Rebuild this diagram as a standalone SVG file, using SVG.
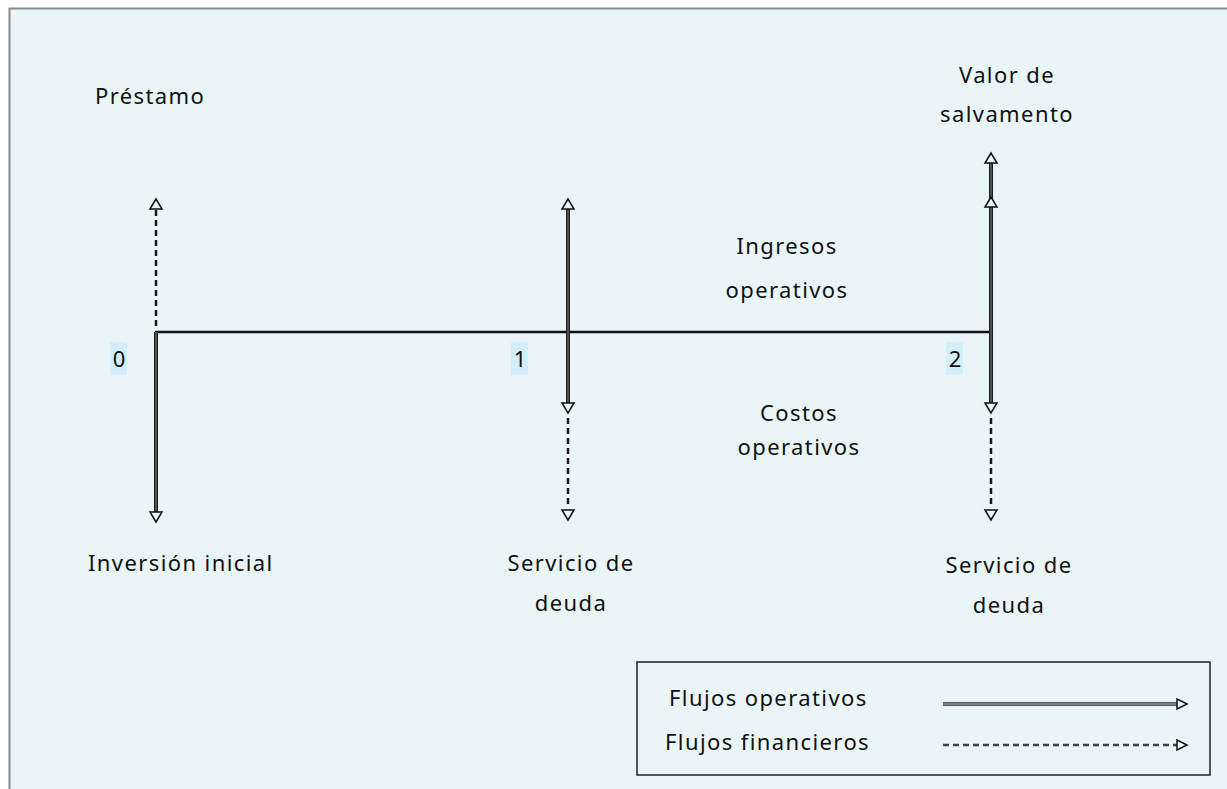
<svg xmlns="http://www.w3.org/2000/svg" width="1227" height="789" viewBox="0 0 1227 789">
<style>
.t{font-family:"Noto Sans","Open Sans","DejaVu Sans",sans-serif;font-size:22px;letter-spacing:1.4px;fill:#111}
.op{stroke:#1a1a1a;stroke-width:4;fill:none}
.opi{stroke:#777;stroke-width:1.2;fill:none}
.fin{stroke:#1a1a1a;stroke-width:2.5;stroke-dasharray:6,4;fill:none}
.ah{fill:#eaf6f8;stroke:#111;stroke-width:1.5}
.num{fill:#d3effb}
</style>
<defs>
<path id="up" d="M0,0 L-6,10 L6,10 Z" class="ah"/>
<path id="dn" d="M0,0 L-6,-10 L6,-10 Z" class="ah"/>
<path id="rt" d="M0,0 L-10,-5 L-10,5 Z" class="ah"/>
</defs>
<rect x="0" y="0" width="1227" height="789" fill="#ffffff"/>
<rect x="9.5" y="8.5" width="1230" height="800" fill="#e9f5f7" stroke="#8a8a8a" stroke-width="2"/>
<g id="connectors">
<line x1="155" y1="332" x2="991" y2="332" stroke="#111" stroke-width="2.5"/>
<line x1="156" y1="210" x2="156" y2="330" class="fin"/>
<line x1="156" y1="332" x2="156" y2="512" class="op"/>
<line x1="156" y1="332" x2="156" y2="512" class="opi"/>
<use href="#up" x="156" y="199"/>
<use href="#dn" x="156" y="522"/>
<line x1="568" y1="208" x2="568" y2="404" class="op"/>
<line x1="568" y1="208" x2="568" y2="404" class="opi"/>
<line x1="568" y1="418" x2="568" y2="507" class="fin"/>
<use href="#up" x="568" y="199"/>
<use href="#dn" x="568" y="413"/>
<use href="#dn" x="568" y="520"/>
<line x1="991" y1="163" x2="991" y2="404" class="op"/>
<line x1="991" y1="163" x2="991" y2="404" class="opi"/>
<line x1="991" y1="418" x2="991" y2="507" class="fin"/>
<use href="#up" x="991" y="153"/>
<use href="#up" x="991" y="197"/>
<use href="#dn" x="991" y="413"/>
<use href="#dn" x="991" y="520"/>
</g>
<g id="labels">
<text class="t" x="95" y="104">Préstamo</text>
<text class="t" x="1007" y="83" text-anchor="middle">Valor de</text>
<text class="t" x="1007" y="122" text-anchor="middle">salvamento</text>
<text class="t" x="787" y="254" text-anchor="middle">Ingresos</text>
<text class="t" x="787" y="298" text-anchor="middle">operativos</text>
<text class="t" x="799" y="421" text-anchor="middle">Costos</text>
<text class="t" x="799" y="455" text-anchor="middle">operativos</text>
<text class="t" x="88" y="571">Inversión inicial</text>
<text class="t" x="571" y="571" text-anchor="middle">Servicio de</text>
<text class="t" x="571" y="611" text-anchor="middle">deuda</text>
<text class="t" x="1009" y="573" text-anchor="middle">Servicio de</text>
<text class="t" x="1009" y="613" text-anchor="middle">deuda</text>
</g>
<g id="node-0"><rect class="num" x="110" y="342" width="17" height="33"/><text class="t" x="119" y="367" text-anchor="middle" style="letter-spacing:0">0</text></g>
<g id="node-1"><rect class="num" x="511" y="342" width="17" height="33"/><text class="t" x="520" y="367" text-anchor="middle" style="letter-spacing:0">1</text></g>
<g id="node-2"><rect class="num" x="946" y="342" width="17" height="33"/><text class="t" x="955" y="367" text-anchor="middle" style="letter-spacing:0">2</text></g>
<g id="legend">
<rect x="637" y="662" width="573" height="113" fill="none" stroke="#222" stroke-width="1.5"/>
<text class="t" x="669" y="706">Flujos operativos</text>
<text class="t" x="665" y="750">Flujos financieros</text>
<line x1="943" y1="704" x2="1177" y2="704" stroke="#222" stroke-width="3.5"/>
<line x1="943" y1="704" x2="1177" y2="704" stroke="#ddd" stroke-width="1"/>
<use href="#rt" x="1187" y="704"/>
<line x1="943" y1="745" x2="1177" y2="745" stroke="#444" stroke-width="2.5" stroke-dasharray="6,4"/>
<use href="#rt" x="1187" y="745"/>
</g>
</svg>
